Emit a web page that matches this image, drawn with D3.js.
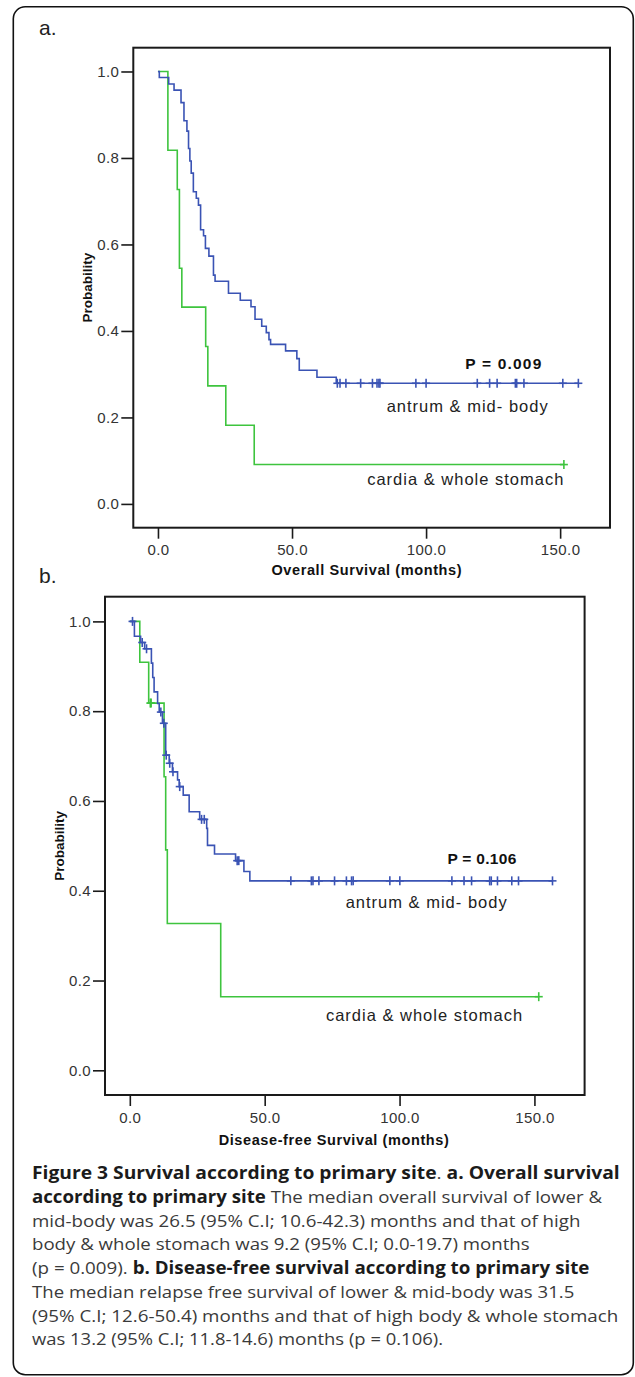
<!DOCTYPE html>
<html>
<head>
<meta charset="utf-8">
<script src="https://cdn.jsdelivr.net/npm/d3@7"></script>
<style>
  body { margin: 0; background: #fff; }
  svg text { white-space: pre; }
</style>
</head>
<body>
<svg id="fig" width="635" height="1377" font-family="'Liberation Sans', Arial, sans-serif"></svg>
<script>
// Kaplan-Meier curves by primary site, two panels (OS and DFS)

var xTicks = [0, 50, 100, 150];
var yTicks = [0, 0.2, 0.4, 0.6, 0.8, 1.0];
var xDomain = [-9.2, 168.6];
var yDomain = [-0.055, 1.055];

// a. overall survival - antrum & mid-body
var osAntrumTime = [0, 0.5, 4.0, 6.0, 8.6, 9.7, 10.8, 11.4, 11.9, 12.4, 13.2, 14.3, 15.1, 15.9, 17.0, 17.7,
  19.0, 20.7, 21.3, 26.3, 30.7, 34.7, 36.2, 38.7, 40.4, 41.4, 42.0, 47.6, 51.8, 52.7, 59.3, 66.5];
var osAntrumSurv = [1.0, 0.986, 0.971, 0.957, 0.928, 0.886, 0.862, 0.822, 0.793, 0.765, 0.722, 0.707, 0.691, 0.634, 0.620, 0.591,
  0.573, 0.529, 0.515, 0.487, 0.471, 0.456, 0.427, 0.411, 0.396, 0.380, 0.369, 0.354, 0.336, 0.309, 0.293, 0.279];
var osAntrumCensor = [66.9, 67.9, 70.1, 75.6, 80.0, 81.7, 82.4, 82.8, 96.2, 100.0, 119.1, 123.7, 126.5,
  133.3, 133.8, 136.5, 151.0, 156.8];

// a. overall survival - cardia & whole stomach
var osCardiaTime = [0, 3.7, 7.2, 8.0, 8.9, 17.8, 18.6, 25.3, 35.9];
var osCardiaSurv = [1.0, 0.818, 0.727, 0.545, 0.455, 0.364, 0.273, 0.182, 0.091];
var osCardiaCensor = [151.4];

// b. disease-free survival - antrum & mid-body
var dfsAntrumTime = [0, 1.7, 4.0, 5.5, 8.0, 8.5, 9.0, 10.3, 10.9, 12.1, 13.3, 14.6, 15.8, 17.7, 18.3, 19.8,
  22.0, 25.9, 28.5, 28.8, 31.4, 39.2, 42.3, 44.5];
var dfsAntrumSurv = [1.0, 0.967, 0.953, 0.939, 0.907, 0.875, 0.843, 0.817, 0.798, 0.773, 0.702, 0.684, 0.665, 0.647, 0.632, 0.613,
  0.576, 0.559, 0.539, 0.501, 0.482, 0.467, 0.443, 0.422];
var dfsAntrumCensor = [1.0, 4.6, 6.2, 11.5, 12.6, 13.5, 14.8, 16.0, 18.5, 26.6, 27.6, 39.8, 40.4,
  59.7, 67.3, 67.9, 70.1, 75.9, 80.3, 82.2, 82.8, 96.4, 100.1, 119.4, 123.9, 126.7, 133.4, 134.0,
  136.3, 141.6, 144.1, 156.7];

// b. disease-free survival - cardia & whole stomach
var dfsCardiaTime = [0, 3.7, 7.0, 12.7, 13.3, 13.9, 33.7];
var dfsCardiaSurv = [1.0, 0.909, 0.818, 0.654, 0.491, 0.327, 0.164];
var dfsCardiaCensor = [7.6, 7.9, 151.6];

var blue = "#3a53b4", green = "#3ec43e";

var captionLines = [
  [["Figure 3 Survival according to primary site", 1], [". ", 0], ["a. Overall survival", 1]],
  [["according to primary site", 1], [" The median overall survival of lower &", 0]],
  [["mid-body was 26.5 (95% C.I; 10.6-42.3) months and that of high", 0]],
  [["body & whole stomach was 9.2 (95% C.I; 0.0-19.7) months", 0]],
  [["(p = 0.009). ", 0], ["b. Disease-free survival according to primary site", 1]],
  [["The median relapse free survival of lower & mid-body was 31.5", 0]],
  [["(95% C.I; 12.6-50.4) months and that of high body & whole stomach", 0]],
  [["was 13.2 (95% C.I; 11.8-14.6) months (p = 0.106).", 0]]
];
var captionEnds = [620, 603.3, 580.7, 530, 590, 575, 619, 443.3];

var svg = d3.select("#fig");
svg.append("rect").attr("width", 635).attr("height", 1377).attr("fill", "#fff");
svg.append("rect")
  .attr("x", 13.3).attr("y", 6.7).attr("width", 620).attr("height", 1368).attr("rx", 12)
  .attr("fill", "none").attr("stroke", "#111").attr("stroke-width", 1.6);

function stepAt(times, surv, t) {
  var i = d3.bisectRight(times, t) - 1;
  return surv[Math.max(i, 0)];
}

function curve(g, x, y, times, surv, censor, color) {
  var pts = times.map(function(t, i) { return [t, surv[i]]; });
  var end = Math.max(times[times.length - 1], d3.max(censor));
  pts.push([end, surv[surv.length - 1]]);
  var line = d3.line().curve(d3.curveStepAfter)
    .x(function(d) { return x(d[0]); })
    .y(function(d) { return y(d[1]); });
  g.append("path").datum(pts).attr("d", line)
    .attr("fill", "none").attr("stroke", color).attr("stroke-width", 1.6);
  var marks = g.selectAll(null).data(censor).enter().append("g")
    .attr("transform", function(t) {
      return "translate(" + x(t) + "," + y(stepAt(times, surv, t)) + ")";
    });
  marks.append("line").attr("y1", -4.5).attr("y2", 4.5)
    .attr("stroke", color).attr("stroke-width", 1.6);
  marks.append("line").attr("x1", -4).attr("x2", 4)
    .attr("stroke", color).attr("stroke-width", 1.6);
}

function panel(o) {
  var x = d3.scaleLinear().domain(xDomain).range([o.left, o.right]);
  var y = d3.scaleLinear().domain(yDomain).range([o.bottom, o.top]);
  var g = svg.append("g");

  g.append("text").attr("x", 39).attr("y", o.letterY)
    .attr("font-size", 21).attr("fill", "#222").text(o.letter);

  var xa = g.append("g").attr("transform", "translate(0," + o.bottom + ")")
    .call(d3.axisBottom(x).tickValues(xTicks).tickFormat(d3.format(".1f"))
      .tickSize(11).tickSizeOuter(0).tickPadding(6));
  var ya = g.append("g").attr("transform", "translate(" + o.left + ",0)")
    .call(d3.axisLeft(y).tickValues(yTicks).tickFormat(d3.format(".1f"))
      .tickSize(12).tickSizeOuter(0).tickPadding(2));
  [xa, ya].forEach(function(a) {
    a.select(".domain").remove();
    a.attr("font-family", null).attr("font-size", 15);
    a.selectAll("line").attr("stroke", "#1a1a1a").attr("stroke-width", 1.6);
    a.selectAll("text").attr("fill", "#333").attr("letter-spacing", 0.4);
  });

  g.append("rect")
    .attr("x", o.left).attr("y", o.top)
    .attr("width", o.right - o.left).attr("height", o.bottom - o.top)
    .attr("fill", "none").attr("stroke", "#1a1a1a").attr("stroke-width", 2);

  g.append("text").attr("x", o.xTitleX).attr("y", o.xTitleY)
    .attr("text-anchor", "middle").attr("font-weight", "bold")
    .attr("font-size", 14.5).attr("letter-spacing", 0.6).attr("fill", "#111")
    .text(o.xTitle);
  g.append("text")
    .attr("transform", "translate(" + (o.left - 41) + "," + ((o.top + o.bottom) / 2) + ") rotate(-90)")
    .attr("text-anchor", "middle").attr("font-weight", "bold")
    .attr("font-size", 13.5).attr("fill", "#111").text("Probability");

  curve(g, x, y, o.cardia[0], o.cardia[1], o.cardia[2], green);
  curve(g, x, y, o.antrum[0], o.antrum[1], o.antrum[2], blue);

  g.append("text").attr("x", o.pX).attr("y", o.pY)
    .attr("font-weight", "bold").attr("font-size", 15.5)
    .attr("letter-spacing", o.pSpacing).attr("fill", "#111").text(o.pText);
  g.append("text").attr("x", o.antrumX).attr("y", o.antrumY)
    .attr("font-size", 16.5).attr("letter-spacing", 1).attr("fill", "#222")
    .text("antrum & mid- body");
  g.append("text").attr("x", o.cardiaX).attr("y", o.cardiaY)
    .attr("font-size", 16.5).attr("letter-spacing", 1).attr("fill", "#222")
    .text("cardia & whole stomach");
}

panel({
  letter: "a.", letterY: 35,
  left: 133.3, right: 610, top: 47.7, bottom: 527.7,
  xTitle: "Overall Survival (months)", xTitleX: 366.8, xTitleY: 575,
  pText: "P = 0.009", pX: 465.2, pY: 369, pSpacing: 1.2,
  antrumX: 386.7, antrumY: 411.7, cardiaX: 367.2, cardiaY: 485,
  antrum: [osAntrumTime, osAntrumSurv, osAntrumCensor],
  cardia: [osCardiaTime, osCardiaSurv, osCardiaCensor]
});

panel({
  letter: "b.", letterY: 583,
  left: 105, right: 584.6, top: 596.7, bottom: 1095,
  xTitle: "Disease-free Survival (months)", xTitleX: 334, xTitleY: 1145,
  pText: "P = 0.106", pX: 447.4, pY: 864, pSpacing: 0.3,
  antrumX: 345.7, antrumY: 908.3, cardiaX: 325.9, cardiaY: 1020.7,
  antrum: [dfsAntrumTime, dfsAntrumSurv, dfsAntrumCensor],
  cardia: [dfsCardiaTime, dfsCardiaSurv, dfsCardiaCensor]
});

// caption, each line squeezed to the width it has in the figure
captionLines.forEach(function(parts, i) {
  var t = svg.append("text")
    .attr("font-family", "'Open Sans', 'Noto Sans', sans-serif").attr("font-size", 17);
  parts.forEach(function(p) {
    t.append("tspan").attr("font-weight", p[1] ? 700 : 400)
      .attr("fill", p[1] ? "#1b1b1b" : "#3a3a3a").text(p[0]);
  });
  var w = t.node().getBBox().width;
  t.attr("transform", "translate(32," + (1179.3 + i * 23.7) + ") scale(" + ((captionEnds[i] - 32) / w) + ",1)");
});
</script>
</body>
</html>
